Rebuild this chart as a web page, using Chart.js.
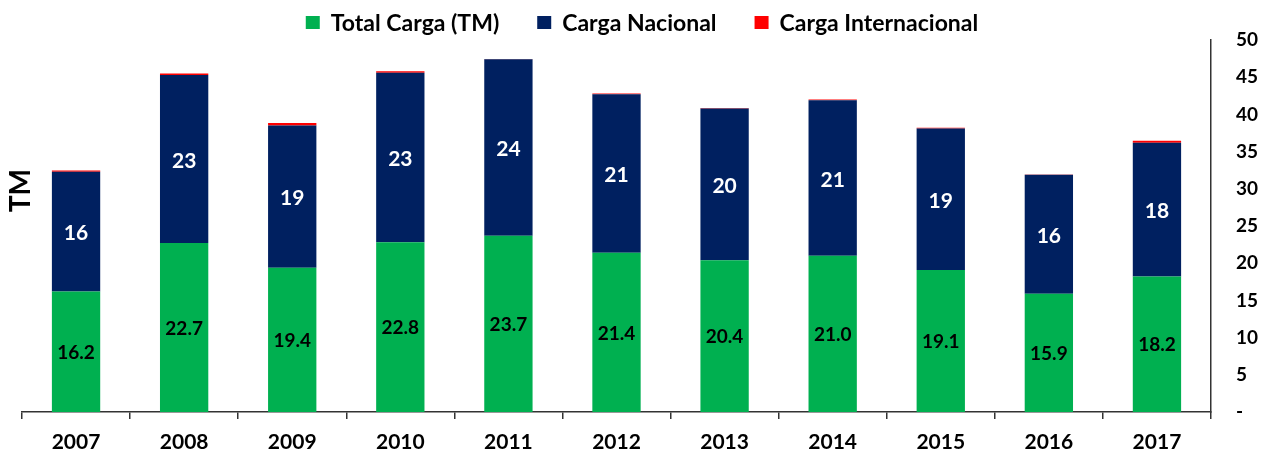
<!DOCTYPE html>
<html>
<head>
<meta charset="utf-8">
<script src="https://cdn.jsdelivr.net/npm/chart.js@4/dist/chart.umd.min.js"></script>
<style>
  html, body { margin: 0; padding: 0; background: #fff; }
  #wrap { width: 1261px; height: 455px; position: relative; }
</style>
</head>
<body>
<div id="wrap"><canvas id="c"></canvas></div>
<script>
const years = ['2007','2008','2009','2010','2011','2012','2013','2014','2015','2016','2017'];
const totalCarga = [16.2, 22.7, 19.4, 22.8, 23.7, 21.4, 20.4, 21.0, 19.1, 15.9, 18.2];
const cargaNacional = [16.1, 22.6, 19.1, 22.8, 23.7, 21.3, 20.4, 20.9, 19.0, 16.0, 18.0];
const cargaInternacional = [0.15, 0.2, 0.35, 0.2, 0.05, 0.1, 0.07, 0.1, 0.09, 0.02, 0.25];
const seriesNames = ['Total Carga (TM)', 'Carga Nacional', 'Carga Internacional'];
const seriesColors = ['#00B050', '#002060', '#FF0000'];
const yAxisTitle = 'TM';
const yTicks = [0, 5, 10, 15, 20, 25, 30, 35, 40, 45, 50];

const FONT = 'Lato';

const labelPlugin = {
  id: 'barLabels',
  afterDatasetsDraw(chart) {
    const ctx = chart.ctx;
    ctx.save();
    ctx.textAlign = 'center';
    ctx.textBaseline = 'middle';
    [0, 1].forEach(di => {
      const meta = chart.getDatasetMeta(di);
      const data = chart.data.datasets[di].data;
      meta.data.forEach((bar, i) => {
        const cy = (bar.y + bar.base) / 2;
        if (di === 0) {
          ctx.fillStyle = '#000';
          ctx.font = 'bold 19px ' + FONT;
          ctx.fillText(data[i].toFixed(1), bar.x, cy + 1);
        } else {
          ctx.fillStyle = '#fff';
          ctx.font = 'bold 21px ' + FONT;
          ctx.fillText(String(Math.round(data[i])), bar.x, cy + 2);
        }
      });
    });
    ctx.restore();
  }
};

const legendPlugin = {
  id: 'customLegend',
  afterDraw(chart) {
    const ctx = chart.ctx;
    ctx.save();
    ctx.font = 'bold 23px ' + FONT;
    ctx.textBaseline = 'middle';
    ctx.textAlign = 'left';
    const box = 14, gapText = 11, gapItem = 38;
    const widths = chart.data.datasets.map(d => box + gapText + ctx.measureText(d.label).width);
    const total = widths.reduce((a, b) => a + b, 0) + gapItem * (widths.length - 1);
    let x = 642 - total / 2;
    const y = 23;
    chart.data.datasets.forEach((d, i) => {
      ctx.fillStyle = d.backgroundColor;
      ctx.fillRect(x, y - box / 2, box, box - 1);
      ctx.fillStyle = '#000';
      ctx.fillText(d.label, x + box + gapText, y + 1);
      x += widths[i] + gapItem;
    });
    ctx.restore();
  }
};

const titlePlugin = {
  id: 'leftTitle',
  afterDraw(chart) {
    const ctx = chart.ctx;
    const a = chart.chartArea;
    ctx.save();
    ctx.translate(21, a.top + (a.bottom - a.top) * 0.405);
    ctx.rotate(-Math.PI / 2);
    ctx.font = 'bold 28px ' + FONT;
    ctx.fillStyle = '#000';
    ctx.textAlign = 'center';
    ctx.textBaseline = 'middle';
    ctx.fillText(yAxisTitle, 0, 0);
    ctx.restore();
  }
};

new Chart(document.getElementById('c'), {
  type: 'bar',
  data: {
    labels: years,
    datasets: [
      { label: seriesNames[0], data: totalCarga, backgroundColor: seriesColors[0] },
      { label: seriesNames[1], data: cargaNacional, backgroundColor: seriesColors[1] },
      { label: seriesNames[2], data: cargaInternacional, backgroundColor: seriesColors[2] }
    ]
  },
  options: {
    responsive: true,
    maintainAspectRatio: false,
    animation: false,
    layout: { padding: { top: 40, left: 22, right: 0, bottom: 0 } },
    datasets: { bar: { barPercentage: 0.447, categoryPercentage: 1, borderWidth: 0 } },
    plugins: { legend: { display: false }, tooltip: { enabled: false } },
    scales: {
      x: {
        stacked: true,
        grid: { display: true, drawOnChartArea: false, drawTicks: true, tickLength: 7, color: '#333', offset: true, lineWidth: 1.5 },
        border: { display: true, color: '#333', width: 1.5 },
        ticks: { color: '#000', font: { family: FONT, size: 21, weight: 'bold' }, padding: 11, maxRotation: 0 },
        afterFit(s) { s.height = 43; }
      },
      y: {
        stacked: true,
        position: 'right',
        min: 0, max: 50,
        afterBuildTicks(s) { s.ticks = yTicks.map(v => ({ value: v })); },
        grid: { display: false, drawTicks: false },
        border: { display: true, color: '#333', width: 1.5 },
        ticks: {
          color: '#000',
          font: { family: FONT, size: 19, weight: 'bold' },
          padding: 25,
          callback: v => v === 0 ? '-' : String(v)
        },
        afterFit(s) { s.width = 50; }
      }
    }
  },
  plugins: [labelPlugin, legendPlugin, titlePlugin]
});
</script>
</body>
</html>
